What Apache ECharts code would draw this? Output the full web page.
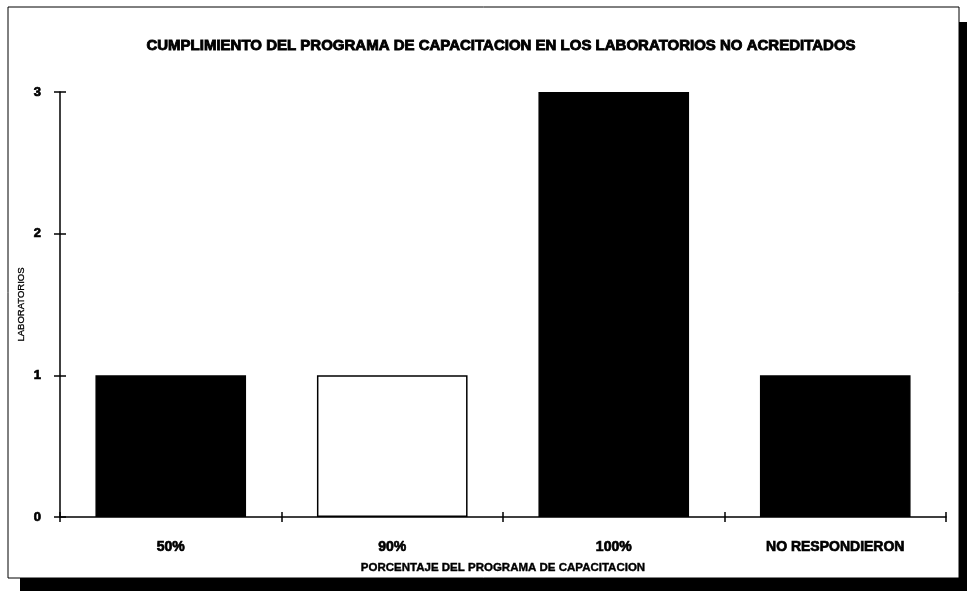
<!DOCTYPE html>
<html>
<head>
<meta charset="utf-8">
<script src="https://cdn.jsdelivr.net/npm/echarts@6/dist/echarts.min.js"></script>
<style>
  html, body { margin: 0; padding: 0; background: #fff; }
  #chart { width: 967px; height: 591px; }
</style>
</head>
<body>
<div id="chart"></div>
<script>
// Categories and number of laboratories per category
const categories = ['50%', '90%', '100%', 'NO RESPONDIERON'];
const laboratorios = [1, 1, 3, 1];
const barFills = ['#000000', '#ffffff', '#000000', '#000000'];
const yTicks = [0, 1, 2, 3];

const chart = echarts.init(document.getElementById('chart'), null, { renderer: 'canvas' });

const FONT = '"Liberation Sans", Arial, sans-serif';
const heavy = { textBorderColor: '#000', textBorderWidth: 0.7 };

const option = {
  backgroundColor: '#ffffff',
  animation: false,
  graphic: [
    // drop shadow of the chart frame
    { type: 'rect', z: -20, shape: { x: 20, y: 22, width: 960, height: 580 }, style: { fill: '#000' } },
    // chart frame
    { type: 'rect', z: -10, shape: { x: 8, y: 7, width: 951, height: 571 }, style: { fill: '#fff', stroke: '#000', lineWidth: 1 } }
  ],
  title: {
    text: 'CUMPLIMIENTO DEL PROGRAMA DE CAPACITACION EN LOS LABORATORIOS NO ACREDITADOS',
    left: 496,
    textAlign: 'center',
    top: 33,
    textStyle: {
      fontFamily: FONT,
      fontSize: 15,
      fontWeight: 'bold',
      color: '#000',
      textBorderColor: '#000',
      textBorderWidth: 0.9
    }
  },
  grid: { left: 60, right: 21, top: 92, bottom: 74, containLabel: false },
  xAxis: [
    {
      type: 'category',
      data: categories,
      name: 'PORCENTAJE DEL PROGRAMA DE CAPACITACION',
      nameLocation: 'middle',
      nameGap: 45,
      nameTextStyle: { fontFamily: FONT, fontSize: 11.5, fontWeight: 'bold', color: '#000', textBorderColor: '#000', textBorderWidth: 0.4 },
      axisLine: { lineStyle: { color: '#000', width: 1.5 } },
      axisTick: { show: true, alignWithLabel: false, length: 5, lineStyle: { color: '#000', width: 1.5 } },
      axisLabel: Object.assign({ margin: 23, fontFamily: FONT, fontSize: 14, fontWeight: 'bold', color: '#000', interval: 0 }, heavy),
      splitLine: { show: false }
    },
    {
      type: 'category',
      data: categories,
      position: 'bottom',
      axisLine: { show: false },
      axisTick: { show: true, inside: true, length: 5, lineStyle: { color: '#000', width: 1.5 } },
      axisLabel: { show: false },
      splitLine: { show: false }
    }
  ],
  yAxis: [
    {
      type: 'value',
      min: 0,
      max: 3,
      interval: 1,
      name: 'LABORATORIOS',
      nameLocation: 'middle',
      nameGap: 34,
      nameMoveOverlap: false,
      nameTextStyle: { fontFamily: '"Liberation Sans Narrow", "Liberation Sans", Arial, sans-serif', fontSize: 9.5, color: '#000', textBorderColor: '#000', textBorderWidth: 0.3 },
      axisLine: { show: true, lineStyle: { color: '#000', width: 1.5 } },
      axisTick: { show: true, length: 6, lineStyle: { color: '#000', width: 1.5 } },
      axisLabel: Object.assign({
        margin: 19,
        fontFamily: FONT,
        fontSize: 13,
        fontWeight: 'bold',
        color: '#000',
        formatter: v => (yTicks.indexOf(v) >= 0 ? String(v) : '')
      }, heavy),
      splitLine: { show: false }
    },
    {
      type: 'value',
      min: 0,
      max: 3,
      interval: 1,
      position: 'left',
      axisLine: { show: false },
      axisTick: { show: true, inside: true, length: 6, lineStyle: { color: '#000', width: 1.5 } },
      axisLabel: { show: false },
      splitLine: { show: false }
    }
  ],
  series: [
    {
      type: 'bar',
      xAxisIndex: 0,
      yAxisIndex: 0,
      barCategoryGap: '32%',
      data: laboratorios.map((v, i) => ({
        value: v,
        itemStyle: { color: barFills[i], borderColor: '#000', borderWidth: 1.5 }
      }))
    }
  ]
};

chart.setOption(option);
</script>
</body>
</html>
